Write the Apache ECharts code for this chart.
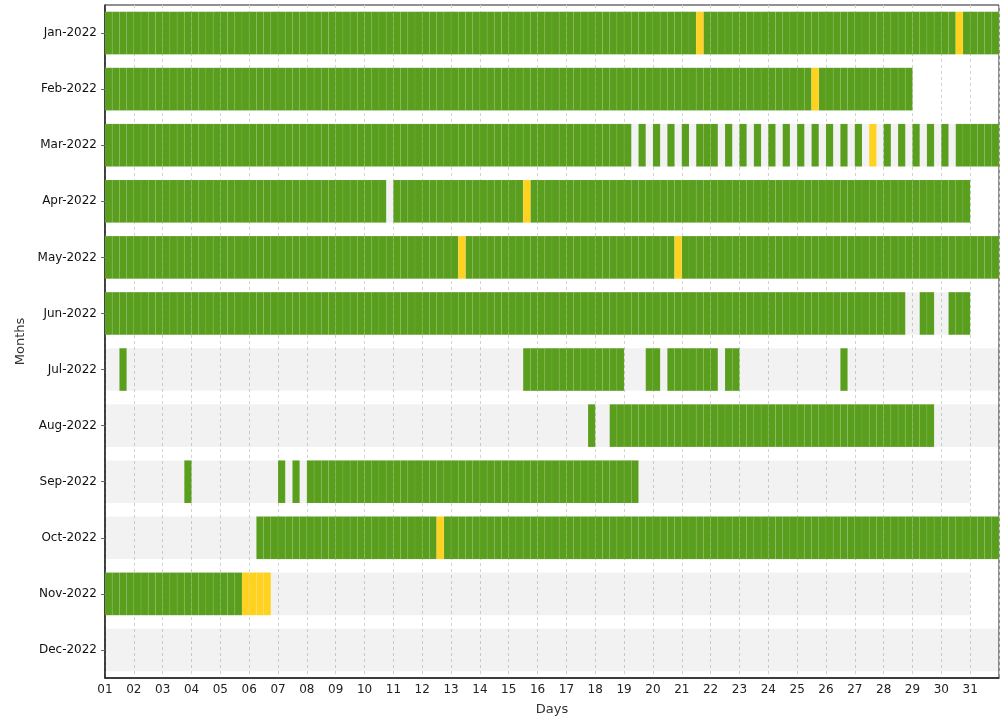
<!DOCTYPE html>
<html lang="en">
<head>
    <meta charset="UTF-8">
    <title>Days per month</title>
    <script src="https://cdn.jsdelivr.net/npm/echarts@6/dist/echarts.min.js"></script>
    <style>
        html, body { margin: 0; padding: 0; background: #fff; }
    </style>
</head>
<body>
    <div id="main" style="width: 1006px; height: 719px;"></div>
    <script>
        var months = ['Jan-2022', 'Feb-2022', 'Mar-2022', 'Apr-2022', 'May-2022', 'Jun-2022',
                      'Jul-2022', 'Aug-2022', 'Sep-2022', 'Oct-2022', 'Nov-2022', 'Dec-2022'];
        var monthDays = [31, 28, 31, 30, 31, 30, 31, 31, 30, 31, 30, 31];

        // [month index, from day, to day] in quarter-day steps
        var okRuns = [
            [0, 1, 21.5], [0, 21.75, 30.5], [0, 30.75, 32],
            [1, 1, 25.5], [1, 25.75, 29],
            [2, 1, 19.25], [2, 19.5, 19.75], [2, 20, 20.25], [2, 20.5, 20.75], [2, 21, 21.25],
            [2, 21.5, 22.25], [2, 22.5, 22.75], [2, 23, 23.25], [2, 23.5, 23.75], [2, 24, 24.25],
            [2, 24.5, 24.75], [2, 25, 25.25], [2, 25.5, 25.75], [2, 26, 26.25], [2, 26.5, 26.75],
            [2, 27, 27.25], [2, 28, 28.25], [2, 28.5, 28.75], [2, 29, 29.25], [2, 29.5, 29.75],
            [2, 30, 30.25], [2, 30.5, 32],
            [3, 1, 10.75], [3, 11, 15.5], [3, 15.75, 31],
            [4, 1, 13.25], [4, 13.5, 20.75], [4, 21, 32],
            [5, 1, 28.75], [5, 29.25, 29.75], [5, 30.25, 31],
            [6, 1.5, 1.75], [6, 15.5, 19], [6, 19.75, 20.25], [6, 20.5, 22.25], [6, 22.5, 23], [6, 26.5, 26.75],
            [7, 17.75, 18], [7, 18.5, 29.75],
            [8, 3.75, 4], [8, 7, 7.25], [8, 7.5, 7.75], [8, 8, 19.5],
            [9, 6.25, 12.5], [9, 12.75, 32],
            [10, 1, 5.75]
        ];
        var warnRuns = [
            [0, 21.5, 21.75], [0, 30.5, 30.75],
            [1, 25.5, 25.75],
            [2, 27.5, 27.75],
            [3, 15.5, 15.75],
            [4, 13.25, 13.5], [4, 20.75, 21],
            [9, 12.5, 12.75],
            [10, 5.75, 6.75]
        ];

        var okColor = '#5a9e1e';
        var warnColor = '#ffd21f';

        // split the runs into 6 hour cells
        function toCells(runs) {
            var cells = [];
            runs.forEach(function (r) {
                for (var t = r[1]; t < r[2] - 0.001; t += 0.25) {
                    cells.push([t, t + 0.25, r[0]]);
                }
            });
            return cells;
        }

        var bgData = monthDays.map(function (d, i) { return [1, d + 1, i]; });

        function makeRender(fill, stroke) {
            return function (params, api) {
                var from = api.coord([api.value(0), api.value(2)]);
                var to = api.coord([api.value(1), api.value(2)]);
                var h = api.size([0, 1])[1] * 0.76;
                return {
                    type: 'rect',
                    shape: { x: from[0], y: from[1] - h / 2, width: to[0] - from[0], height: h },
                    style: { fill: fill, stroke: stroke, lineWidth: stroke ? 0.5 : 0 }
                };
            };
        }

        var chart = echarts.init(document.getElementById('main'));
        chart.setOption({
            animation: false,
            backgroundColor: '#fff',
            grid: {
                left: 105, right: 7, top: 5, bottom: 41,
                outerBoundsMode: 'none', containLabel: false,
                show: true, borderColor: '#222', borderWidth: 1
            },
            xAxis: {
                type: 'value',
                min: 1, max: 32, interval: 1,
                name: 'Days', nameLocation: 'middle', nameGap: 25,
                nameTextStyle: { color: '#333', fontSize: 13, fontFamily: 'DejaVu Sans' },
                axisLine: { show: true, lineStyle: { color: '#222', width: 1.5 } },
                axisTick: { show: false },
                axisLabel: {
                    color: '#222', fontSize: 12, fontFamily: 'DejaVu Sans', margin: 6,
                    showMaxLabel: false,
                    formatter: function (v) { return v > 31 ? '' : (v < 10 ? '0' + v : '' + v); }
                },
                splitLine: { show: true, lineStyle: { color: '#d2d2d2', type: [3, 3], width: 1 } }
            },
            yAxis: {
                type: 'category',
                data: months,
                inverse: true,
                name: 'Months', nameLocation: 'middle', nameGap: 71,
                nameTextStyle: { color: '#333', fontSize: 13, fontFamily: 'DejaVu Sans' },
                axisLine: { show: true, lineStyle: { color: '#222', width: 1.5 } },
                axisTick: { show: true, alignWithLabel: true, length: 4, lineStyle: { color: '#666' } },
                axisLabel: { color: '#111', fontSize: 12, fontFamily: 'DejaVu Sans', margin: 8 },
                splitLine: { show: false }
            },
            series: [
                {
                    type: 'custom', name: 'days',
                    renderItem: makeRender('rgba(0,0,0,0.05)', null),
                    encode: { x: [0, 1], y: 2 },
                    data: bgData, z: 1, silent: true
                },
                {
                    type: 'custom', name: 'ok',
                    renderItem: makeRender(okColor, 'rgba(255,255,255,0.14)'),
                    encode: { x: [0, 1], y: 2 },
                    data: toCells(okRuns), z: 3
                },
                {
                    type: 'custom', name: 'warning',
                    renderItem: makeRender(warnColor, 'rgba(255,255,255,0.14)'),
                    encode: { x: [0, 1], y: 2 },
                    data: toCells(warnRuns), z: 3
                }
            ]
        });
    </script>
</body>
</html>
